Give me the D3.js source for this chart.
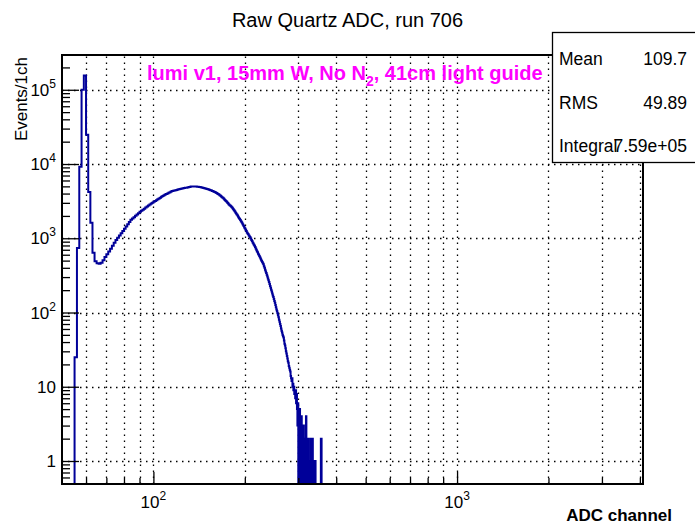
<!DOCTYPE html>
<html>
<head>
<meta charset="utf-8">
<script src="https://cdn.jsdelivr.net/npm/d3@7"></script>
<style>
  body { margin: 0; background: #fff; }
  svg { display: block; font-family: "Liberation Sans", Arial, Helvetica, sans-serif; }
</style>
</head>
<body>
<svg id="chart" width="695" height="524"></svg>
<script>
// histogram: 1 channel per bin, first bin starts at channel 50
const binStart = 50;
const counts = [
  0, 0, 0, 0, 0, 25, 740, 9200, 100000, 156000,
  24700, 4200, 1620, 640, 490, 460, 452, 468, 505, 560,
  610, 665, 720, 790, 870, 950, 1018, 1091, 1169, 1253,
  1343, 1439, 1542, 1652, 1770, 1845, 1923, 2005, 2090, 2178,
  2270, 2345, 2423, 2504, 2587, 2673, 2762, 2853, 2940, 3016,
  3095, 3175, 3258, 3343, 3430, 3519, 3610, 3704, 3800, 3872,
  3946, 4021, 4097, 4175, 4254, 4335, 4372, 4409, 4446, 4484,
  4522, 4561, 4600, 4634, 4668, 4703, 4738, 4773, 4808, 4844,
  4880, 4915, 4950, 4965, 4975, 4980, 4980, 4975, 4965, 4950,
  4935, 4915, 4895, 4870, 4840, 4800, 4760, 4725, 4690, 4650,
  4610, 4570, 4525, 4480, 4435, 4390, 4340, 4290, 4240, 4185,
  4130, 4075, 4020, 3950, 3880, 3805, 3730, 3655, 3580, 3500,
  3420, 3340, 3260, 3180, 3100, 3020, 2940, 2860, 2790, 2740,
  2680, 2610, 2540, 2460, 2380, 2310, 2230, 2160, 2090, 2020,
  1950, 1880, 1820, 1760, 1700, 1640, 1580, 1520, 1460, 1400,
  1350, 1300, 1250, 1200, 1160, 1130, 1090, 1060, 1030, 990,
  950, 920, 880, 850, 820, 790, 760, 730, 700, 670,
  650, 620, 600, 575, 555, 535, 515, 495, 478, 460,
  445, 420, 400, 378, 358, 340, 322, 305, 288, 272,
  257, 242, 228, 215, 203, 192, 181, 170, 162, 152,
  143, 135, 126, 118, 110, 104, 98, 92, 86, 80,
  75, 70, 66, 61, 57, 54, 50, 48, 46, 42,
  38, 36, 33, 30, 28, 26, 24, 22, 21, 19,
  18, 17, 16, 14, 13, 12, 13, 10, 11, 9,
  10, 8, 9, 7, 9, 6, 8, 5, 3, 6,
  0, 4, 2, 5, 0, 3, 1, 4, 0, 2,
  1, 0, 3, 1, 0, 2, 0, 1, 4, 0,
  1, 0, 2, 1, 0, 1, 0, 0, 2, 0,
  1, 0, 0, 2, 2, 0, 0, 1, 0, 0,
  0, 1, 0, 0, 0, 0, 0, 0, 0, 0,
  0, 0, 0, 0, 0, 0, 2, 2, 0, 0
];

const xMajor = [100, 1000];
const xMinor = [60, 70, 80, 90, 200, 300, 400, 500, 600, 700, 800, 900, 2000, 3000, 4000];
const yDecades = [1, 10, 100, 1000, 10000, 100000];
const yMinor = [0.5, 0.6, 0.7, 0.8, 0.9, 2, 3, 4, 5, 6, 7, 8, 9, 20, 30, 40, 50, 60, 70, 80, 90,
  200, 300, 400, 500, 600, 700, 800, 900, 2000, 3000, 4000, 5000, 6000, 7000, 8000, 9000,
  20000, 30000, 40000, 50000, 60000, 70000, 80000, 90000, 200000];
// label text: [base, exponent]
const yLabels = [["1", ""], ["10", ""], ["10", "2"], ["10", "3"], ["10", "4"], ["10", "5"]];
const xLabels = [["10", "2"], ["10", "3"]];

const stats = [["Mean", "109.7"], ["RMS", "49.89"], ["Integral", "7.59e+05"]];

const frame = { left: 62, top: 55, right: 643, bottom: 484 };
const xDomain = [50, 4096];
const yDomain = [0.49, 2.94e5];

const svg = d3.select("#chart");

const x = d3.scaleLog().domain(xDomain).range([frame.left, frame.right]);
const y = d3.scaleLog().domain(yDomain).range([frame.bottom, frame.top]);

// title
svg.append("text")
  .attr("x", 347.5)
  .attr("y", 27)
  .attr("text-anchor", "middle")
  .style("font-size", "20px")
  .text("Raw Quartz ADC, run 706");

// grid
const grid = svg.append("g").attr("stroke", "#000").attr("stroke-width", 1.3).attr("stroke-dasharray", "1.5,4.5");
grid.selectAll("line.gx")
  .data(xMajor.concat(xMinor))
  .enter().append("line")
  .attr("x1", d => Math.round(x(d)) + 0.5).attr("x2", d => Math.round(x(d)) + 0.5)
  .attr("y1", frame.bottom).attr("y2", frame.top);
grid.selectAll("line.gy")
  .data(yDecades)
  .enter().append("line")
  .attr("y1", d => Math.round(y(d)) + 0.5).attr("y2", d => Math.round(y(d)) + 0.5)
  .attr("x1", frame.left).attr("x2", frame.right);

// histogram
svg.append("clipPath").attr("id", "clip")
  .append("rect")
  .attr("x", frame.left).attr("y", frame.top)
  .attr("width", frame.right - frame.left).attr("height", frame.bottom - frame.top);

const pts = [];
counts.forEach((c, i) => {
  const yy = c > 0 ? y(c) : frame.bottom + 5;
  pts.push([x(binStart + i), yy]);
  pts.push([x(binStart + i + 1), yy]);
});

svg.append("path")
  .attr("clip-path", "url(#clip)")
  .attr("d", d3.line()(pts))
  .attr("fill", "none")
  .attr("stroke", "#000099")
  .attr("stroke-width", 2);

// axes (ticks point into the frame)
const xAxisMajor = d3.axisBottom(x).tickValues(xMajor).tickSize(-12).tickFormat("");
const xAxisMinor = d3.axisBottom(x).tickValues(xMinor).tickSize(-6).tickFormat("");
const yAxisMajor = d3.axisLeft(y).tickValues(yDecades).tickSize(-17).tickFormat("");
const yAxisMinor = d3.axisLeft(y).tickValues(yMinor).tickSize(-8).tickFormat("");

[xAxisMajor, xAxisMinor].forEach(ax => {
  svg.append("g").attr("transform", `translate(0,${frame.bottom})`).call(ax)
    .call(g => g.select(".domain").remove())
    .selectAll("line").attr("stroke-width", 1.3);
});
[yAxisMajor, yAxisMinor].forEach(ax => {
  svg.append("g").attr("transform", `translate(${frame.left},0)`).call(ax)
    .call(g => g.select(".domain").remove())
    .selectAll("line").attr("stroke-width", 1.3);
});

// frame
svg.append("rect")
  .attr("x", frame.left).attr("y", frame.top)
  .attr("width", frame.right - frame.left).attr("height", frame.bottom - frame.top)
  .attr("fill", "none").attr("stroke", "#000").attr("stroke-width", 2);

// tick labels
yDecades.forEach((v, i) => {
  const t = svg.append("text")
    .attr("x", 56)
    .attr("y", y(v) + 6)
    .attr("text-anchor", "end")
    .style("font-size", "17px");
  t.append("tspan").text(yLabels[i][0]);
  if (yLabels[i][1]) {
    t.append("tspan").attr("dy", -8).style("font-size", "12px").text(yLabels[i][1]);
  }
});
xMajor.forEach((v, i) => {
  const t = svg.append("text")
    .attr("x", x(v))
    .attr("y", 508)
    .attr("text-anchor", "middle")
    .style("font-size", "17px");
  t.append("tspan").text(xLabels[i][0]);
  t.append("tspan").attr("dy", -8).style("font-size", "12px").text(xLabels[i][1]);
});

// axis titles
svg.append("text")
  .attr("x", 672).attr("y", 521)
  .attr("text-anchor", "end")
  .style("font-size", "17px").style("font-weight", "bold")
  .text("ADC channel");
svg.append("text")
  .attr("transform", "translate(27,57) rotate(-90)")
  .attr("text-anchor", "end")
  .style("font-size", "17px")
  .text("Events/1ch");

// label
const lab = svg.append("text")
  .attr("x", 147).attr("y", 80)
  .attr("fill", "#ff00ff")
  .style("font-size", "20px").style("font-weight", "bold");
lab.append("tspan").text("lumi v1, 15mm W, No N");
lab.append("tspan").attr("dy", 6).style("font-size", "14px").text("2");
lab.append("tspan").attr("dy", -6).text(", 41cm light guide");

// stats box
svg.append("rect")
  .attr("x", 552.5).attr("y", 32.5)
  .attr("width", 150).attr("height", 130)
  .attr("fill", "#fff").attr("stroke", "#000").attr("stroke-width", 1.3);
stats.forEach((s, i) => {
  svg.append("text").attr("x", 559).attr("y", 65 + i * 43.5)
    .style("font-size", "17.5px").text(s[0]);
  svg.append("text").attr("x", 687).attr("y", 65 + i * 43.5)
    .attr("text-anchor", "end").style("font-size", "17.5px").text(s[1]);
});
</script>
</body>
</html>
